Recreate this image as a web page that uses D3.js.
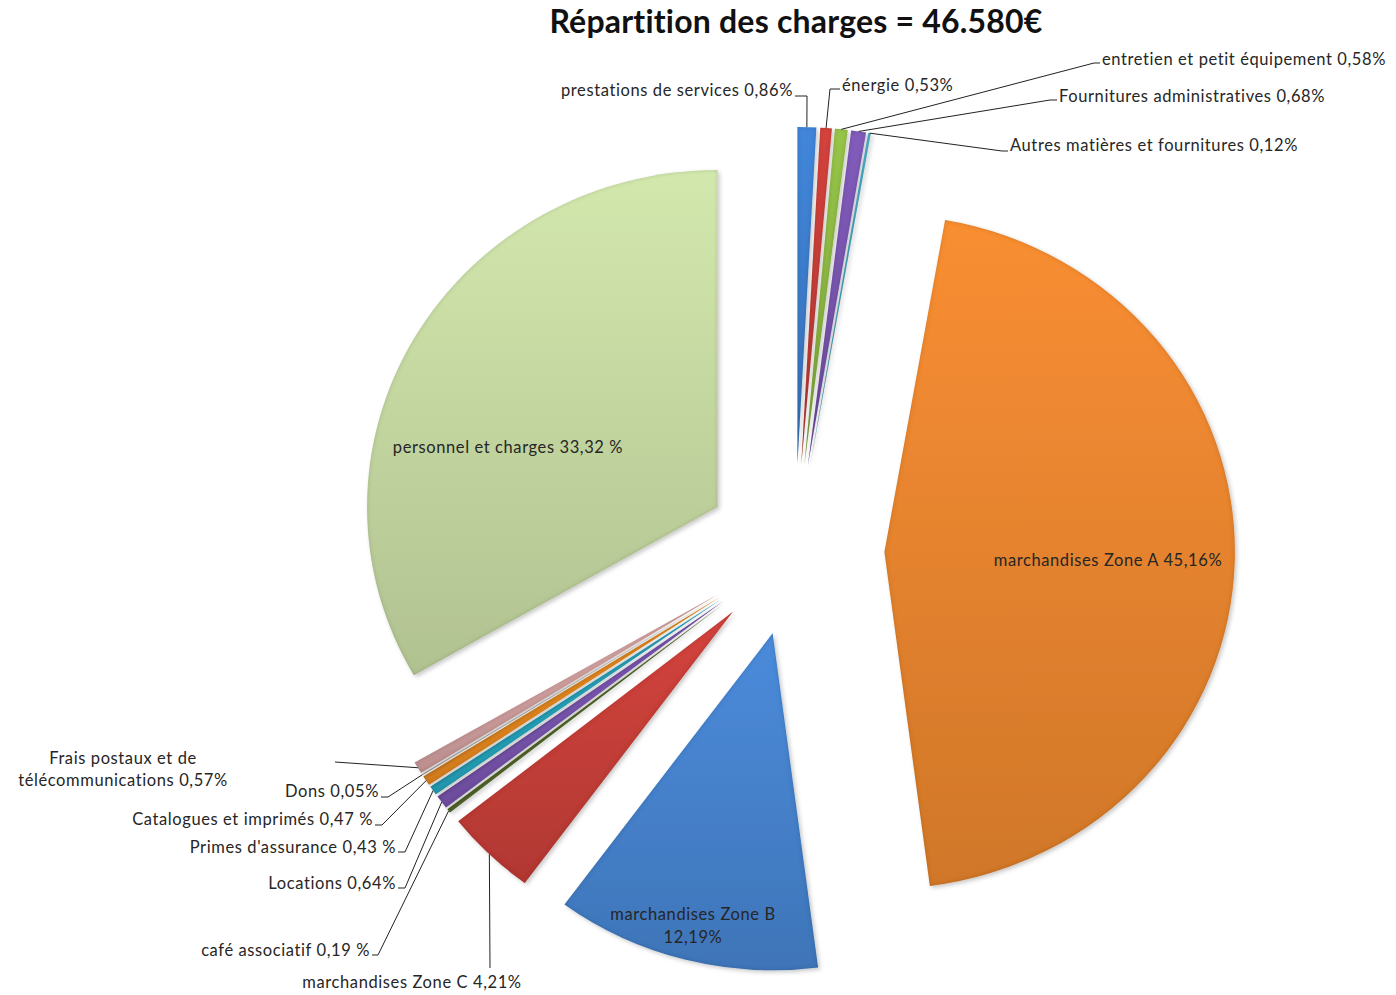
<!DOCTYPE html>
<html><head><meta charset="utf-8">
<script src="https://cdn.jsdelivr.net/npm/d3@7"></script>
<style>
body{margin:0;background:#fff}
svg{display:block}
text{font-family:Lato,"Open Sans",sans-serif}
</style>
</head><body>
<svg id="chart" width="1396" height="995"></svg>
<script>
// ---- data ----
const title = "Répartition des charges = 46.580€";
const categories = ["prestations de services","énergie","entretien et petit équipement","Fournitures administratives","Autres matières et fournitures","marchandises Zone A","marchandises Zone B","marchandises Zone C","café associatif","Locations","Primes d'assurance","Catalogues et imprimés","Dons","Frais postaux et de télécommunications","personnel et charges"];
const values = [0.86,0.53,0.58,0.68,0.12,45.16,12.19,4.21,0.19,0.64,0.43,0.47,0.05,0.57,33.32];
const valueLabels = ["0,86%","0,53%","0,58%","0,68%","0,12%","45,16%","12,19%","4,21%","0,19 %","0,64%","0,43 %","0,47 %","0,05%","0,57%","33,32 %"];
const colors = ["#3f7fcf","#c9403a","#8fbb45","#7b57b2","#4bacc6","#ec8730","#4784d0","#c9403a","#5f7530","#7b57b2","#2aabc4","#ee8d24","#d8d2c6","#d5a3a2","#c8dca4"];

// ---- layout of labels (positions only) ----
const labelLayout = [
  {x:793,y:90,anchor:"end",leader:[[795,96],[807,96]]},
  {x:842,y:85,anchor:"start",leader:[[840,89],[830,89]]},
  {x:1102,y:59,anchor:"start",leader:[[1100,63],[1094,63]]},
  {x:1059,y:96,anchor:"start",leader:[[1057,100],[1050,100]]},
  {x:1010,y:145,anchor:"start",leader:[[1008,151],[1002,151]]},
  {x:1108,y:560,anchor:"middle",inside:true},
  {x:693,y:914,anchor:"middle",inside:true,split:true},
  {x:412,y:982,anchor:"middle",leader:[[490,968]]},
  {x:370,y:950,anchor:"end",leader:[[372,955],[378,955]]},
  {x:396,y:883,anchor:"end",leader:[[398,888],[405,888]]},
  {x:396,y:847,anchor:"end",leader:[[398,852],[405,852]]},
  {x:373,y:819,anchor:"end",leader:[[375,825],[382,825]]},
  {x:379,y:791,anchor:"end",leader:[[381,797],[388,797]]},
  {x:123,y:758,anchor:"middle",multi:["Frais postaux et de","télécommunications 0,57%"],leader:[[335,762]]},
  {x:508,y:447,anchor:"middle",inside:true}
];

const W=1396,H=995;
const cx=795, cy=550, R=337, sx=1.04, explode=86;
const svg=d3.select("#chart");
const defs=svg.append("defs");

const f=defs.append("filter").attr("id","bevel").attr("x","-10%").attr("y","-10%").attr("width","120%").attr("height","120%");
f.append("feGaussianBlur").attr("in","SourceAlpha").attr("stdDeviation",2.2).attr("result","b");
const ct=f.append("feComponentTransfer").attr("in","b").attr("result","inv");
ct.append("feFuncA").attr("type","linear").attr("slope",-1).attr("intercept",1);
f.append("feComposite").attr("in","inv").attr("in2","SourceAlpha").attr("operator","in").attr("result","rim");
f.append("feFlood").attr("flood-color","#000").attr("flood-opacity",0.32).attr("result","fc");
f.append("feComposite").attr("in","fc").attr("in2","rim").attr("operator","in").attr("result","rimC");
f.append("feOffset").attr("in","b").attr("dx",1.5).attr("dy",2).attr("result","sh0");
f.append("feFlood").attr("flood-color","#000").attr("flood-opacity",0.22).attr("result","fs");
f.append("feComposite").attr("in","fs").attr("in2","sh0").attr("operator","in").attr("result","sh");
const m=f.append("feMerge");
m.append("feMergeNode").attr("in","sh");
m.append("feMergeNode").attr("in","SourceGraphic");
m.append("feMergeNode").attr("in","rimC");

colors.forEach((c,i)=>{
  const lg=defs.append("linearGradient").attr("id","grad"+i).attr("x1",0).attr("y1",0).attr("x2",0).attr("y2",1);
  lg.append("stop").attr("offset","0%").attr("stop-color",d3.color(c).brighter(0.15).formatHex());
  lg.append("stop").attr("offset","100%").attr("stop-color",d3.color(c).darker(0.35).formatHex());
});

svg.append("text").attr("x",796).attr("y",33).attr("text-anchor","middle")
  .attr("font-size",32).attr("font-weight","bold").attr("letter-spacing",0.2).attr("fill","#111").text(title);

const pie=d3.pie().sort(null).value(d=>d)(values);
const arc=d3.arc().innerRadius(0).outerRadius(R);
const g=svg.append("g").attr("transform",`translate(${cx},${cy}) scale(${sx},1)`);
pie.forEach((p,i)=>{
  const mid=(p.startAngle+p.endAngle)/2;
  g.append("g").attr("transform",`translate(${explode*Math.sin(mid)},${-explode*Math.cos(mid)})`)
   .append("path").attr("d",arc(p)).attr("fill",`url(#grad${i})`).attr("filter","url(#bevel)");
});

const lab=svg.append("g").attr("font-size",16.5).attr("letter-spacing",0.6).attr("fill","#262626");
pie.forEach((p,i)=>{
  const L=labelLayout[i];
  const mid=(p.startAngle+p.endAngle)/2;
  const ox=cx+sx*(explode+R)*Math.sin(mid), oy=cy-(explode+R)*Math.cos(mid);
  if(L.leader){
    const pts=L.leader.concat([[ox,oy]]);
    lab.append("path").attr("d",d3.line()(pts)).attr("fill","none").attr("stroke","#222").attr("stroke-width",1);
  }
  const txt = categories[i]+" "+valueLabels[i];
  if(L.multi){
    L.multi.forEach((s,k)=>lab.append("text").attr("x",L.x).attr("y",L.y+k*22).attr("dy","0.35em").attr("text-anchor",L.anchor).text(s));
  } else if(L.split){
    lab.append("text").attr("x",L.x).attr("y",L.y).attr("dy","0.35em").attr("text-anchor",L.anchor).text(categories[i]);
    lab.append("text").attr("x",L.x).attr("y",L.y+23).attr("dy","0.35em").attr("text-anchor",L.anchor).text(valueLabels[i]);
  } else {
    lab.append("text").attr("x",L.x).attr("y",L.y).attr("dy","0.35em").attr("text-anchor",L.anchor).text(txt);
  }
});
</script>
</body></html>
